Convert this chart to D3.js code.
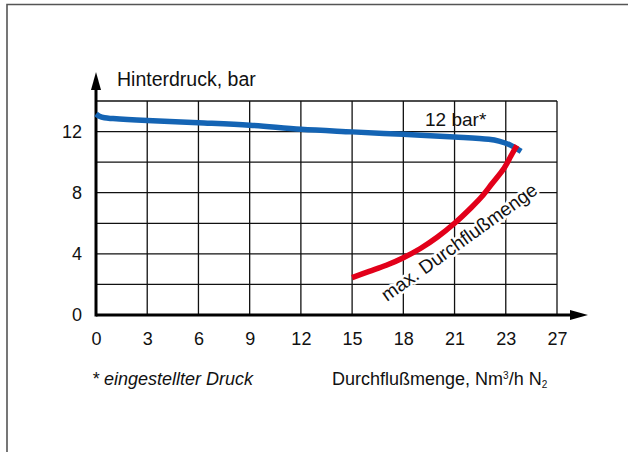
<!DOCTYPE html>
<html>
<head>
<meta charset="utf-8">
<script src="https://cdn.jsdelivr.net/npm/d3@7"></script>
<style>
  html, body { margin: 0; padding: 0; background: #fff; }
  svg { display: block; }
  text { font-family: "Liberation Sans", Arial, sans-serif; fill: #111; }
</style>
</head>
<body>
<svg id="chart" width="628" height="452"></svg>
<script>
// ---- data ----
const xTickValues = [0, 3, 6, 9, 12, 15, 18, 21, 24, 27];
const xTickLabels = ["0", "3", "6", "9", "12", "15", "18", "21", "23", "27"];
const yTickValues = [0, 4, 8, 12];
const yGridValues = [2, 4, 6, 8, 10, 12, 14];

// Hinterdruck at 12 bar setting (blue)
const blueX = [0, 0.2, 0.5, 1, 3, 6, 9, 12, 15, 18, 21, 23, 23.6, 24.2, 24.9];
const blueY = [13.15, 13.0, 12.9, 12.85, 12.72, 12.58, 12.42, 12.15, 11.98, 11.82, 11.65, 11.5, 11.38, 11.15, 10.7];

// max. Durchflußmenge (red)
const redX = [15, 16, 17, 18, 19, 20, 21, 22, 22.6, 23.2, 23.9, 24.3, 24.65];
const redY = [2.45, 2.85, 3.25, 3.75, 4.35, 5.1, 6.0, 7.05, 7.75, 8.6, 9.6, 10.4, 11.1];

const yTitle = "Hinterdruck, bar";
const curveLabel = "12 bar*";
const redLabel = "max. Durchflußmenge";
const footnote = "* eingestellter Druck";

// ---- layout ----
const svg = d3.select("#chart");
const x = d3.scaleLinear().domain([0, 27]).range([96, 557]);
const y = d3.scaleLinear().domain([0, 14]).range([315, 101]);

// frame
svg.append("path")
  .attr("d", "M7,452 L7,4.5 L628,4.5")
  .attr("fill", "none").attr("stroke", "#555").attr("stroke-width", 1.6);

// grid
const grid = svg.append("g").attr("stroke", "#111").attr("stroke-width", 1.3);
grid.selectAll("line.v").data(xTickValues.filter(d => d > 0)).join("line")
  .attr("x1", d => x(d)).attr("x2", d => x(d))
  .attr("y1", y(0)).attr("y2", y(14));
grid.selectAll("line.h").data(yGridValues).join("line")
  .attr("x1", x(0)).attr("x2", x(27))
  .attr("y1", d => y(d)).attr("y2", d => y(d));

// axes ticks/labels
const xAxis = d3.axisBottom(x).tickValues(xTickValues)
  .tickFormat((d, i) => xTickLabels[i]).tickSize(0).tickPadding(17);
const gx = svg.append("g").attr("transform", `translate(0,${y(0)})`).call(xAxis);
gx.select(".domain").remove();
gx.selectAll("text").style("font-size", "18px").style("font-family", "Liberation Sans, Arial, sans-serif").attr("fill", "#111");

const yAxis = d3.axisLeft(y).tickValues(yTickValues).tickSize(0).tickPadding(14);
const gy = svg.append("g").attr("transform", `translate(${x(0)},0)`).call(yAxis);
gy.select(".domain").remove();
gy.selectAll("text").style("font-size", "18px").style("font-family", "Liberation Sans, Arial, sans-serif").attr("fill", "#111");

// axis lines with arrows
svg.append("line").attr("x1", x(0)).attr("x2", 574).attr("y1", y(0)).attr("y2", y(0))
  .attr("stroke", "#000").attr("stroke-width", 3);
svg.append("path").attr("d", `M588,${y(0)} L570,${y(0) - 5} L570,${y(0) + 5} Z`).attr("fill", "#000");
svg.append("line").attr("x1", x(0)).attr("x2", x(0)).attr("y1", y(0) + 1.5).attr("y2", 86)
  .attr("stroke", "#000").attr("stroke-width", 3);
svg.append("path").attr("d", `M${x(0)},72 L${x(0) - 5},90 L${x(0) + 5},90 Z`).attr("fill", "#000");

// curves
const line = d3.line().x(d => x(d[0])).y(d => y(d[1])).curve(d3.curveCatmullRom.alpha(0.5));
svg.append("path").datum(blueX.map((v, i) => [v, blueY[i]]))
  .attr("d", line).attr("fill", "none").attr("stroke", "#1464b4")
  .attr("stroke-width", 5.5).attr("stroke-linecap", "butt");
svg.append("path").datum(redX.map((v, i) => [v, redY[i]]))
  .attr("d", line).attr("fill", "none").attr("stroke", "#e2001a")
  .attr("stroke-width", 5.5);

// texts
svg.append("text").attr("x", x(1.23)).attr("y", 86)
  .style("font-size", "19.5px").text(yTitle);
svg.append("text").attr("x", x(19.27)).attr("y", y(12.36))
  .style("font-size", "19px").text(curveLabel);
svg.append("text")
  .attr("transform", `translate(${x(17.05)},${y(0.85)}) rotate(-35.7)`)
  .style("font-size", "19px")
  .attr("stroke", "#fff").attr("stroke-width", 5).attr("paint-order", "stroke")
  .attr("stroke-linejoin", "round")
  .text(redLabel);

svg.append("text").attr("x", 92).attr("y", 385)
  .style("font-size", "18px").style("font-style", "italic").text(footnote);

const xt = svg.append("text").attr("x", 332).attr("y", 385).style("font-size", "18px");
xt.append("tspan").text("Durchflußmenge, Nm");
xt.append("tspan").text("3").style("font-size", "10px").attr("dy", -6);
xt.append("tspan").text("/h N").attr("dy", 6);
xt.append("tspan").text("2").style("font-size", "10px").attr("dy", 3);
</script>
</body>
</html>
